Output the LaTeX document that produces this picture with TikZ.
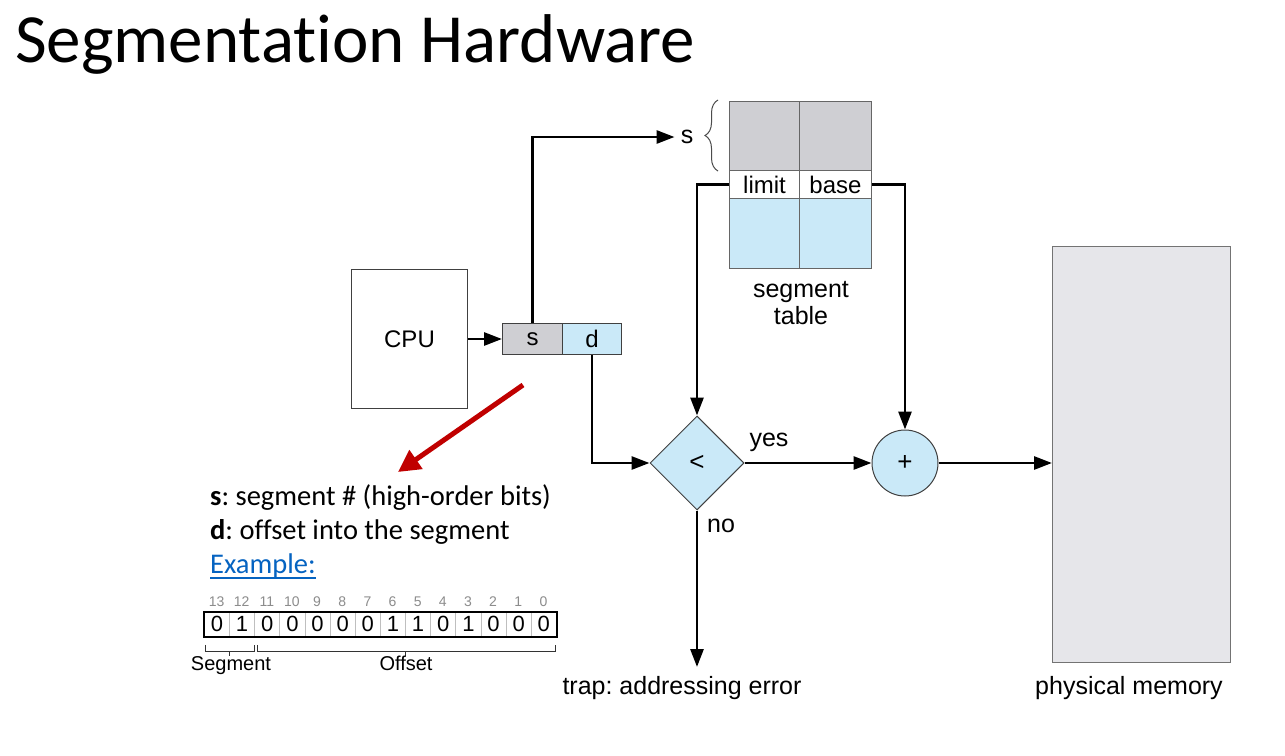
\documentclass[tikz,border=0pt]{standalone}
\usepackage{fontspec}
\setmainfont{Carlito}[Ligatures=NoCommon]
\newfontfamily\diag{Liberation Sans}
\usetikzlibrary{arrows.meta,shapes.geometric,decorations.pathreplacing,calc}
\definecolor{cellgray}{RGB}{207,207,211}
\definecolor{cellblue}{RGB}{202,233,248}
\definecolor{memgray}{RGB}{230,230,234}
\definecolor{arrowred}{RGB}{192,0,0}
\definecolor{linkblue}{RGB}{5,99,193}
\definecolor{bitgray}{RGB}{140,140,140}
\frenchspacing
\begin{document}
\begin{tikzpicture}[x=1pt,y=-1pt,
  conn/.style={line width=2.8pt, -{Triangle[length=18pt,width=13pt]}},
  cell/.style={draw=black!75, line width=1pt, inner sep=0, anchor=north west},
  lbl/.style={font=\diag\fontsize{25}{27}\selectfont, inner sep=0},
  desc/.style={anchor=base west, inner sep=0, font=\fontsize{28.5}{30}\selectfont},
  bitcell/.style={draw=black!25, line width=0.8pt, minimum width=25.14pt, minimum height=24pt,
    anchor=north west, inner sep=0, font=\diag\fontsize{22}{22}\selectfont},
  bitnum/.style={anchor=base, inner sep=0, text=bitgray, font=\diag\fontsize{14}{14}\selectfont},
  bracket/.style={draw=black!80, line width=1pt}
]
\useasboundingbox (0,0) rectangle (1285,755);
\fill[white] (0,0) rectangle (1285,755);

% title
\node[anchor=base west, inner sep=0, font=\fontsize{69}{78}\selectfont] (title) at (15,62) {Segmentation Hardware};

% CPU and logical address
\node[cell, minimum width=116pt, minimum height=139pt, font=\diag\fontsize{24}{27}\selectfont] (cpu) at (351,269) {CPU};
\node[cell, fill=cellgray, minimum width=60pt, minimum height=31pt, font=\diag\fontsize{24}{27}\selectfont] (sbox) at (502,323) {s};
\node[cell, fill=cellblue, minimum width=59pt, minimum height=31pt, font=\diag\fontsize{24}{27}\selectfont] (dbox) at (562,323) {d};
\draw[conn] (cpu.east) -- (sbox.west);

% segment table
\node[cell, fill=cellgray, draw=black!60, minimum width=70pt, minimum height=69pt] (g1) at (729,101) {};
\node[cell, fill=cellgray, draw=black!60, minimum width=72pt, minimum height=69pt] (g2) at (799,101) {};
\node[cell, fill=white, draw=black!60, minimum width=70pt, minimum height=28pt, font=\diag\fontsize{24}{27}\selectfont] (limit) at (729,170) {limit};
\node[cell, fill=white, draw=black!60, minimum width=72pt, minimum height=28pt, font=\diag\fontsize{24}{27}\selectfont] (base) at (799,170) {base};
\node[cell, fill=cellblue, draw=black!60, minimum width=70pt, minimum height=70pt] (b1) at (729,198) {};
\node[cell, fill=cellblue, draw=black!60, minimum width=72pt, minimum height=70pt] (b2) at (799,198) {};
\node[lbl, align=center] (stlabel) at (801,303) {segment\\table};

% selector s into the table
\node[lbl] (slbl) at (687,137) {s};
\draw[conn, shorten >=6pt] (sbox.north) |- (slbl.west);
\draw[black!70, line width=1pt, decorate, decoration={brace, amplitude=13pt}] (718,171) -- (718,100);

% comparator and adder
\node[diamond, draw=black!75, line width=1pt, fill=cellblue, minimum width=94pt, minimum height=94pt, inner sep=0, font=\diag\fontsize{26}{27}\selectfont] (cmp) at (697,463) {<};
\node[circle, draw=black!75, line width=1pt, fill=cellblue, minimum size=66pt, inner sep=0, font=\diag\fontsize{26}{27}\selectfont] (add) at (905,463) {+};

% physical memory
\node[cell, fill=memgray, draw=black!55, minimum width=178pt, minimum height=416pt] (mem) at (1052,246) {};
\node[lbl] (memlbl) at (1129,688) {physical memory};

% connectors
\draw[conn] (limit.west) -| (cmp.north);
\draw[conn] (base.east) -| (add.north);
\draw[conn] (dbox.south) |- (cmp.west);
\draw[conn] (cmp.east) -- (add.west);
\node[lbl] (yes) at (769,442) {yes};
\draw[conn] (add.east) -- (mem.west |- add.east);
\node[lbl] (no) at (721,526) {no};
\coordinate (trapend) at (697,667);
\draw[conn] (cmp.south) -- (trapend);
\node[lbl] (trap) at (682,688) {trap: addressing error};

% red pointer to the explanation
\coordinate (redstart) at (523,385);
\coordinate (redend) at (398,472);
\draw[arrowred, line width=5pt, -{Triangle[length=22pt,width=22pt]}] (redstart) -- (redend);

% explanation
\node[desc] (sdesc) at (210,505) {\textbf{s}: segment \# (high-order bits)};
\node[desc] (ddesc) at (210,539) {\textbf{d}: offset into the segment};
\node[desc, text=linkblue] (example) at (210,573) {Example:};
\draw[linkblue, line width=1.2pt] ($(example.base west)+(0,5)$) -- ($(example.base east)+(0,5)$);

% 14-bit example address
\foreach [count=\i from 0] \b in {0,1,0,0,0,0,0,1,1,0,1,0,0,0} {
  \pgfmathtruncatemacro\n{13-\i}
  \node[bitcell] (bit\i) at ({204+\i*25.14},612) {\b};
  \node[bitnum] (num\i) at ({216.57+\i*25.14},606) {\n};
}
\draw[line width=2.2pt] (bit0.north west) rectangle (bit13.south east);
\draw[bracket] ($(bit0.south west)+(1,8)$) -- ($(bit0.south west)+(1,15)$) -- ($(bit1.south east)+(-1,15)$) -- ($(bit1.south east)+(-1,8)$);
\draw[bracket] ($(bit0.south east)+(0,15)$) -- ($(bit0.south east)+(0,19)$);
\draw[bracket] ($(bit2.south west)+(3,8)$) -- ($(bit2.south west)+(3,15)$) -- ($(bit13.south east)+(-1,15)$) -- ($(bit13.south east)+(-1,8)$);
\draw[bracket] ($(bit7.south east)+(0,15)$) -- ($(bit7.south east)+(0,19)$);
\node[anchor=base, inner sep=0, font=\diag\fontsize{20}{20}\selectfont] (seglbl) at (231,670) {Segment};
\node[anchor=base, inner sep=0, font=\diag\fontsize{20}{20}\selectfont] (offlbl) at (406,670) {Offset};
\end{tikzpicture}
\end{document}
